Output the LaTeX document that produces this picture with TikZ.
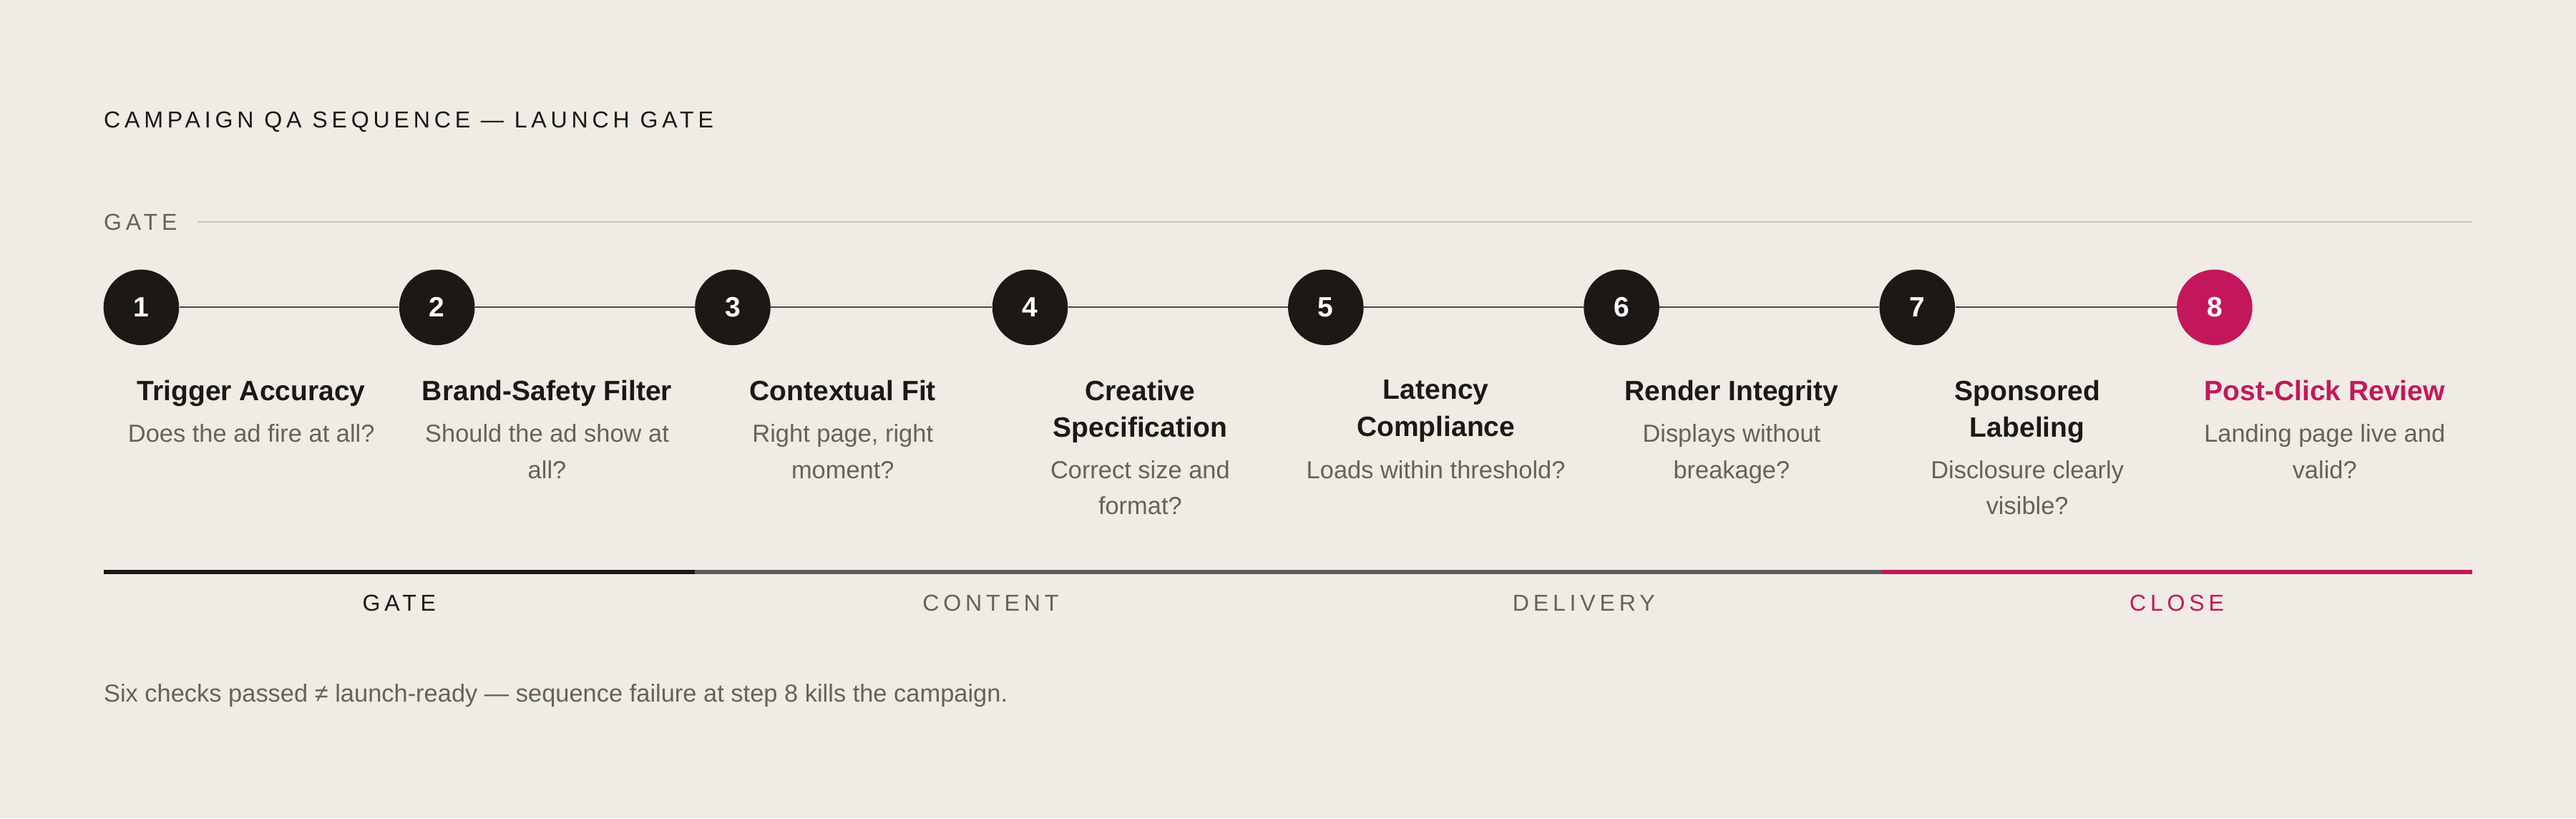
\documentclass[tikz,border=0pt]{standalone}
\usepackage{fontspec}
\setmainfont{Liberation Sans}
\newfontfamily\spaced[LetterSpace=18]{Liberation Sans}
\definecolor{bg}{HTML}{F0EBE4}
\definecolor{ink}{HTML}{1C1816}
\definecolor{crim}{HTML}{C2185B}
\definecolor{mid}{HTML}{67615B}
\definecolor{rule}{HTML}{C9C3BC}
\begin{document}
\begin{tikzpicture}[x=1pt,y=-1pt,
  stepnode/.style={circle,fill=ink,minimum size=46pt,inner sep=0pt,text=white,font=\fontsize{17}{20}\selectfont\bfseries},
  ttl/.style={anchor=north,align=center,text=ink,font=\fontsize{17}{22.5}\selectfont\bfseries,inner sep=0pt},
  sub/.style={anchor=north,align=center,text=mid,font=\fontsize{15}{22}\selectfont,inner sep=0pt},
  capt/.style={font=\fontsize{14}{16}\selectfont\spaced,inner sep=0pt}]
\fill[bg] (0,0) rectangle (1568,498);
\useasboundingbox (0,0) rectangle (1568,498);
\node[capt,anchor=west,text=ink] (title) at (63,74) {CAMPAIGN QA SEQUENCE — LAUNCH GATE};
\node[capt,anchor=west,text=mid] (gate) at (63,135) {GATE};
\coordinate (gl) at (120,135);
\coordinate (gr) at (1505,135);
\draw[rule,line width=0.8pt] (gl) -- (gr);
\foreach \i/\x in {1/86,2/266,3/446,4/627,5/807,6/987,7/1167}{
  \node[stepnode] (c\i) at (\x,187) {\i};
}
\node[stepnode,fill=crim] (c8) at (1348,187) {8};
\foreach \i [evaluate=\i as \j using int(\i+1)] in {1,...,7}{
  \draw[ink!80,line width=0.9pt] (c\i) -- (c\j);
}
\node[ttl] (t1) at (153,231) {Trigger Accuracy};
\node[sub] (s1) at (153,258) {Does the ad fire at all?};
\node[ttl] (t2) at (333,231) {Brand-Safety Filter};
\node[sub] (s2) at (333,258) {Should the ad show at\\all?};
\node[ttl] (t3) at (513,231) {Contextual Fit};
\node[sub] (s3) at (513,258) {Right page, right\\moment?};
\node[ttl] (t4) at (694,231) {Creative\\Specification};
\node[sub] (s4) at (694,280) {Correct size and\\format?};
\node[ttl] (t5) at (874,231) {Latency\\Compliance};
\node[sub] (s5) at (874,280) {Loads within threshold?};
\node[ttl] (t6) at (1054,231) {Render Integrity};
\node[sub] (s6) at (1054,258) {Displays without\\breakage?};
\node[ttl] (t7) at (1234,231) {Sponsored\\Labeling};
\node[sub] (s7) at (1234,280) {Disclosure clearly\\visible?};
\node[ttl,text=crim] (t8) at (1415,231) {Post-Click Review};
\node[sub] (s8) at (1415,258) {Landing page live and\\valid?};
\coordinate (b0) at (63,348); \coordinate (b1) at (423,348);
\coordinate (b2) at (1145,348); \coordinate (b3) at (1505,348);
\draw[ink,line width=2.2pt] (b0) -- (b1);
\draw[ink!70,line width=2.2pt] (b1) -- (b2);
\draw[crim,line width=2.2pt] (b2) -- (b3);
\node[capt,text=ink] (p1) at (243,367) {GATE};
\node[capt,text=mid] (p2) at (603,367) {CONTENT};
\node[capt,text=mid] (p3) at (964,367) {DELIVERY};
\node[capt,text=crim] (p4) at (1325,367) {CLOSE};
\node[anchor=west,inner sep=0pt,text=mid,font=\fontsize{15}{18}\selectfont] (foot) at (63,423) {Six checks passed ≠ launch-ready — sequence failure at step 8 kills the campaign.};
\end{tikzpicture}
\end{document}
